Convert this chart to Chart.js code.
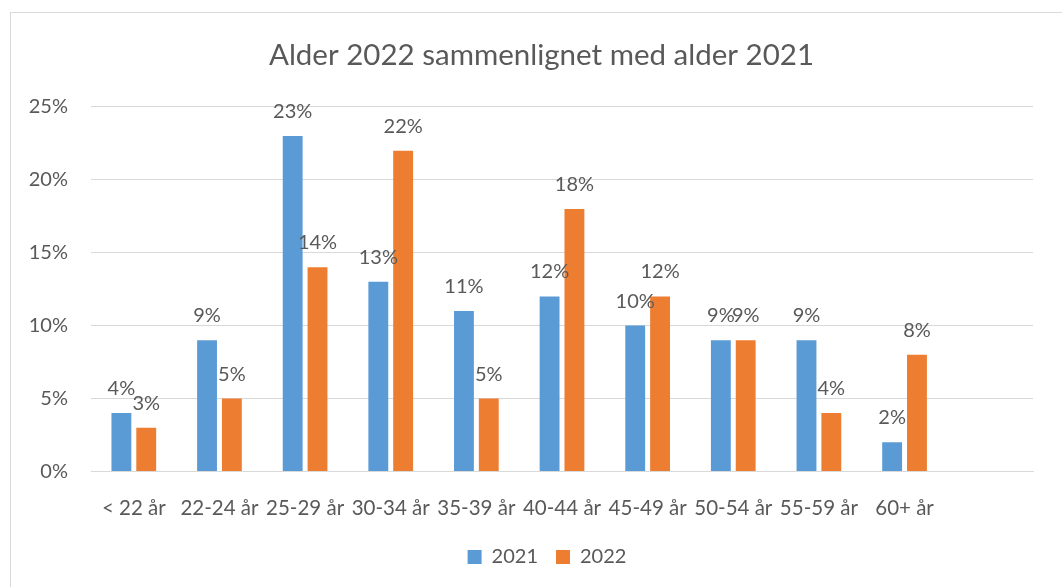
<!DOCTYPE html>
<html>
<head>
<meta charset="utf-8">
<script src="https://cdn.jsdelivr.net/npm/chart.js@4.4.0/dist/chart.umd.min.js"></script>
<style>
  html, body { margin: 0; padding: 0; background: #fff; }
  #wrap { position: relative; width: 1062px; height: 587px; overflow: hidden; }
  #frame { position: absolute; left: 10px; top: 12px; width: 1100px; height: 640px; border: 1px solid #d9d9d9; box-sizing: border-box; }
  canvas { position: absolute; left: 0; top: 0; }
</style>
</head>
<body>
<div id="wrap">
  <div id="frame"></div>
  <canvas id="chart" width="1062" height="587"></canvas>
</div>
<script>
const categories = ['< 22 år', '22-24 år', '25-29 år', '30-34 år', '35-39 år', '40-44 år', '45-49 år', '50-54 år', '55-59 år', '60+ år', ''];
const values2021 = [4, 9, 23, 13, 11, 12, 10, 9, 9, 2, null];
const values2022 = [3, 5, 14, 22, 5, 18, 12, 9, 4, 8, null];
const yTicks = [0, 5, 10, 15, 20, 25];

const textColor = '#595959';
const fontFamily = 'Lato, "Open Sans", sans-serif';

// value labels above each bar, like Excel "outside end"
const barLabels = {
  id: 'barLabels',
  afterDatasetsDraw(chart) {
    const ctx = chart.ctx;
    ctx.save();
    ctx.font = `20px ${fontFamily}`;
    ctx.fillStyle = textColor;
    ctx.textAlign = 'center';
    ctx.textBaseline = 'alphabetic';
    chart.data.datasets.forEach((ds, i) => {
      chart.getDatasetMeta(i).data.forEach((bar, j) => {
        const v = ds.data[j];
        if (v === null || v === undefined) return;
        ctx.fillText(v + '%', bar.x, bar.y - 18);
      });
    });
    ctx.restore();
  }
};

// centre title and legend on the outer frame rather than the canvas
const recentre = {
  id: 'recentre',
  afterLayout(chart) {
    chart.titleBlock.left = 50;
    chart.legend.left = 61;
    chart.legend.top -= 5;
    chart.legend.bottom -= 5;
  }
};

new Chart(document.getElementById('chart'), {
  type: 'bar',
  data: {
    labels: categories,
    datasets: [
      { label: '2021', data: values2021, backgroundColor: '#5b9bd5', categoryPercentage: 0.58, barPercentage: 0.8 },
      { label: '2022', data: values2022, backgroundColor: '#ed7d31', categoryPercentage: 0.58, barPercentage: 0.8 }
    ]
  },
  options: {
    responsive: false,
    animation: false,
    layout: { padding: { left: 0, right: 29, top: 20, bottom: 5 } },
    plugins: {
      title: {
        display: true,
        text: 'Alder 2022 sammenlignet med alder 2021',
        color: textColor,
        font: { family: fontFamily, size: 29.5, weight: 'normal' },
        padding: { top: 18, bottom: 33.5 }
      },
      legend: {
        position: 'bottom',
        labels: {
          color: textColor,
          font: { family: fontFamily, size: 20 },
          boxWidth: 14,
          boxHeight: 14,
          padding: 18
        }
      },
      tooltip: { enabled: false }
    },
    scales: {
      x: {
        afterFit(scale) { scale.height = 62.6; },
        grid: { display: false, drawTicks: false },
        border: { color: '#d9d9d9', width: 1 },
        ticks: { color: textColor, font: { family: fontFamily, size: 20.5 }, padding: 25, maxRotation: 0, autoSkip: false }
      },
      y: {
        min: 0,
        max: 25,
        afterFit(scale) { scale.width = 91; },
        afterBuildTicks(scale) { scale.ticks = yTicks.map(v => ({ value: v })); },
        grid: { color: '#d9d9d9', lineWidth: 1, drawTicks: false },
        border: { display: false },
        ticks: {
          color: textColor,
          font: { family: fontFamily, size: 20 },
          padding: 23,
          callback: v => v + '%'
        }
      }
    }
  },
  plugins: [barLabels, recentre]
});
</script>
</body>
</html>
